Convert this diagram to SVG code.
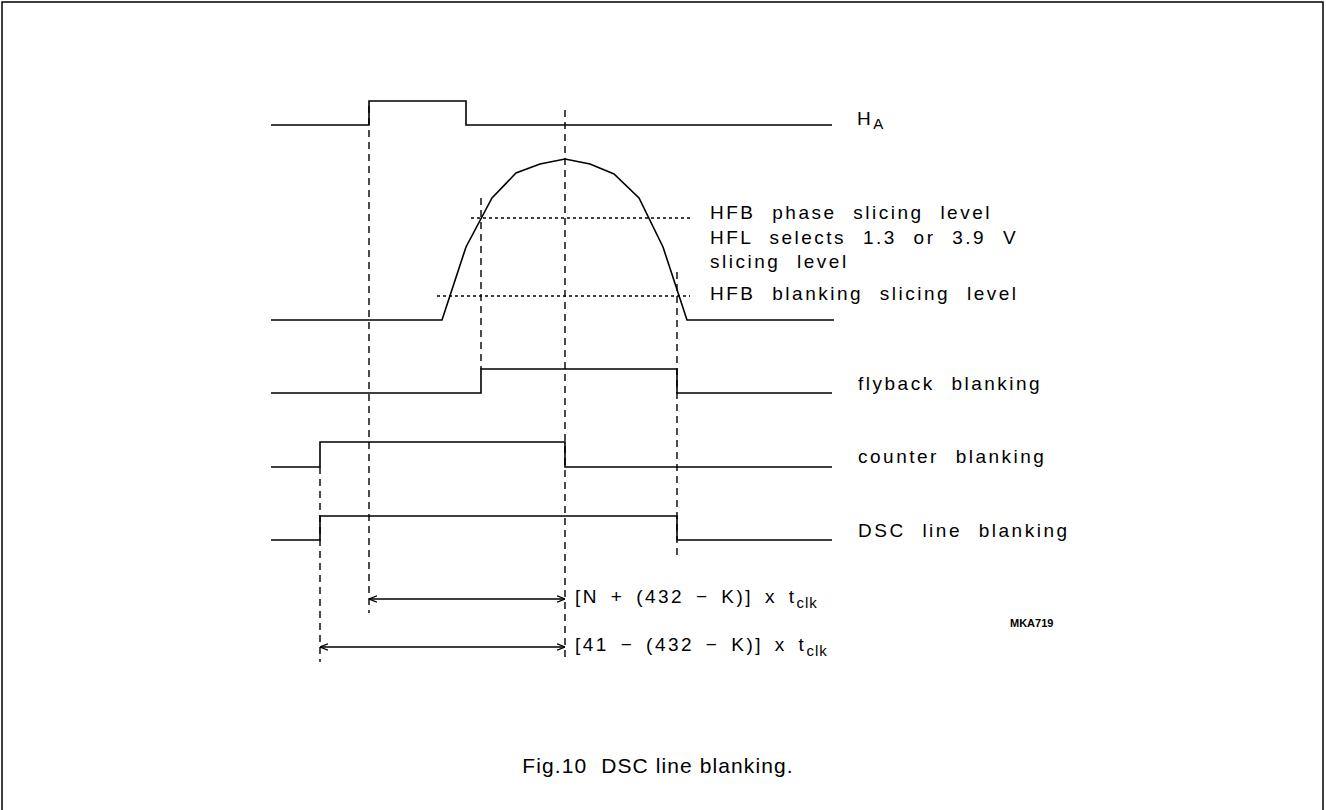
<svg xmlns="http://www.w3.org/2000/svg" width="1326" height="810" viewBox="0 0 1326 810">
<defs>
<style>
.sig{fill:none;stroke:#000;stroke-width:1.6;stroke-linejoin:miter}
.dash{fill:none;stroke:#000;stroke-width:1.4;stroke-dasharray:7 5}
.dot{fill:none;stroke:#000;stroke-width:1.3;stroke-dasharray:3 3}
.arr{fill:none;stroke:#000;stroke-width:1.3;marker-start:url(#ah);marker-end:url(#ah)}
.lbl{font-family:"Liberation Sans",Arial,sans-serif;font-size:19px;letter-spacing:2.5px;word-spacing:9px;fill:#000}
.frm{word-spacing:4px}
.sub{font-size:15px;letter-spacing:1px}
.code{font-family:"Liberation Sans",Arial,sans-serif;font-size:11px;font-weight:bold;fill:#000}
.cap{font-family:"Liberation Sans",Arial,sans-serif;font-size:21px;letter-spacing:1.1px;fill:#000}
</style>
<marker id="ah" viewBox="0 0 10 10" refX="10" refY="5" markerWidth="8" markerHeight="8" markerUnits="userSpaceOnUse" orient="auto-start-reverse">
<path d="M0,1 L10,5 L0,9" fill="none" stroke="#000" stroke-width="1.5"/>
</marker>
</defs>
<rect x="0" y="0" width="1326" height="810" fill="#fff"/>
<path d="M2,812 V2 H1323 V812" fill="none" stroke="#000" stroke-width="1.5"/>

<g id="connectors">
<line class="dash" x1="369" y1="106" x2="369" y2="613"/>
<line class="dash" x1="481" y1="198" x2="481" y2="369"/>
<line class="dash" x1="565" y1="110" x2="565" y2="662"/>
<line class="dash" x1="677" y1="272" x2="677" y2="558"/>
<line class="dash" x1="320" y1="467" x2="320" y2="662"/>
<line class="dot" x1="471" y1="218" x2="692" y2="218"/>
<line class="dot" x1="437" y1="296" x2="690" y2="296"/>
<line class="arr" x1="369" y1="599" x2="565" y2="599"/>
<line class="arr" x1="320" y1="647" x2="565" y2="647"/>
</g>

<g id="node-ha">
<path class="sig" d="M271,125 H369 V101 H466 V125 H832"/>
<text class="lbl" x="857" y="125">H<tspan class="sub" dy="4">A</tspan></text>
</g>

<g id="node-hfb">
<path class="sig" d="M271,320 H442 L466,247 L492,198 L516,173 L540,164 L565,159 L590,164 L614,174 L639,198 L663,247 L687,320 H834"/>
<text class="lbl" x="710" y="219">HFB phase slicing level</text>
<text class="lbl" x="710" y="244">HFL selects 1.3 or 3.9 V</text>
<text class="lbl" x="710" y="268">slicing level</text>
<text class="lbl" x="710" y="300">HFB blanking slicing level</text>
</g>

<g id="node-flyback">
<path class="sig" d="M271,393 H481 V369 H677 V393 H832"/>
<text class="lbl" x="858" y="390">flyback blanking</text>
</g>

<g id="node-counter">
<path class="sig" d="M271,467 H320 V442 H565 V467 H832"/>
<text class="lbl" x="858" y="463">counter blanking</text>
</g>

<g id="node-dsc">
<path class="sig" d="M271,540 H320 V516 H677 V540 H832"/>
<text class="lbl" x="858" y="537">DSC line blanking</text>
</g>

<g id="node-formula1">
<text class="lbl frm" x="575" y="603">[N + (432 − K)] x t<tspan class="sub" dy="5">clk</tspan></text>
</g>
<g id="node-formula2">
<text class="lbl frm" x="575" y="651">[41 − (432 − K)] x t<tspan class="sub" dy="5">clk</tspan></text>
</g>

<text class="code" x="1010" y="627">MKA719</text>
<text class="cap" x="658" y="773" text-anchor="middle" xml:space="preserve">Fig.10  DSC line blanking.</text>
</svg>
